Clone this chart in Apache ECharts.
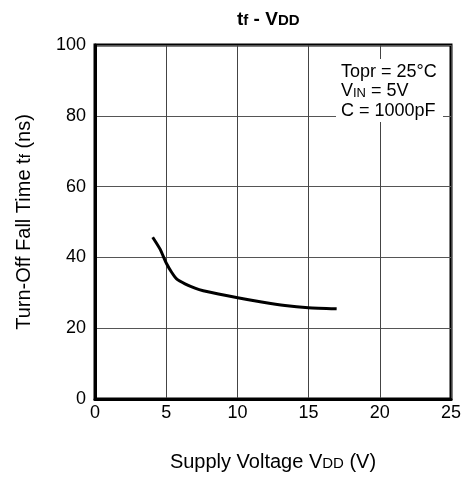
<!DOCTYPE html>
<html><head><meta charset="utf-8">
<script src="https://cdn.jsdelivr.net/npm/echarts@6/dist/echarts.min.js"></script>
<style>html,body{margin:0;padding:0;background:#fff}#c{width:466px;height:477px}</style>
</head><body><div id="c"></div>
<script>
const vdd = [4.05, 4.56, 5.03, 5.38, 5.73, 6.32, 7.02, 7.6, 10.02, 11.7, 13.34, 14.98, 16.97];
const tf  = [45.7, 42.4, 38.2, 35.8, 33.9, 32.5, 31.3, 30.6, 28.6, 27.4, 26.4, 25.8, 25.5];
const xTicks = [0, 5, 10, 15, 20, 25];
const yTicks = [0, 20, 40, 60, 80, 100];
const notes = ['{n|Topr = 25°C}', '{n|V}{s|IN}{n| = 5V}', '{n|C = 1000pF}'];

const F = '"Liberation Sans", Arial, Helvetica, sans-serif';
const chart = echarts.init(document.getElementById('c'), null, {renderer: 'canvas'});
chart.setOption({
  animation: false,
  title: {
    text: '{b|t}{bs|f}{b| - V}{bs|DD}',
    left: 232, top: 5,
    textStyle: {
      rich: {
        b: {fontFamily: F, fontWeight: 'bold', fontSize: 19, color: '#000'},
        bs: {fontFamily: F, fontWeight: 'bold', fontSize: 15, color: '#000', padding: [3, 0, 0, 0]}
      }
    }
  },
  grid: {left: 95, right: 15, top: 45, bottom: 77, show: true, borderColor: '#000', borderWidth: 3, backgroundColor: 'transparent'},
  xAxis: {
    type: 'value', min: xTicks[0], max: xTicks[xTicks.length - 1], interval: 5,
    axisLine: {show: true, lineStyle: {color: '#000', width: 3}},
    axisTick: {show: false},
    splitLine: {show: true, lineStyle: {color: '#444', width: 1}},
    axisLabel: {fontFamily: F, fontSize: 18, color: '#000', margin: 5},
    name: '{n|Supply Voltage V}{s|DD}{n| (V)}',
    nameLocation: 'middle', nameGap: 53,
    nameTextStyle: {rich: {
      n: {fontFamily: F, fontSize: 20, color: '#000'},
      s: {fontFamily: F, fontSize: 15, color: '#000', padding: [3, 0, 0, 0]}
    }}
  },
  yAxis: {
    type: 'value', min: yTicks[0], max: yTicks[yTicks.length - 1], interval: 20,
    axisLine: {show: true, lineStyle: {color: '#000', width: 3}},
    axisTick: {show: false},
    splitLine: {show: true, lineStyle: {color: '#555', width: 1}},
    axisLabel: {fontFamily: F, fontSize: 18, color: '#000', margin: 9},
    name: '{n|Turn-Off Fall Time t}{s|f}{n| (ns)}',
    nameLocation: 'middle', nameGap: 61, nameRotate: 90,
    nameTextStyle: {rich: {
      n: {fontFamily: F, fontSize: 20, color: '#000'},
      s: {fontFamily: F, fontSize: 15, color: '#000', padding: [3, 0, 0, 0]}
    }}
  },
  series: [{
    type: 'line', data: vdd.map((v, i) => [v, tf[i]]),
    showSymbol: false, smooth: 0.2,
    lineStyle: {color: '#000', width: 3}
  }],
  graphic: [
    {type: 'rect', left: 336, top: 59, shape: {width: 107, height: 63}, style: {fill: '#fff'}, z: 10},
    {type: 'text', left: 341, top: 63, z: 11, style: {
      text: notes.join('\n'), fill: '#000',
      rich: {
        n: {fontFamily: F, fontSize: 18, color: '#000', lineHeight: 19.5},
        s: {fontFamily: F, fontSize: 13, color: '#000', padding: [3, 0, 0, 0]}
      }
    }}
  ]
});
</script></body></html>
